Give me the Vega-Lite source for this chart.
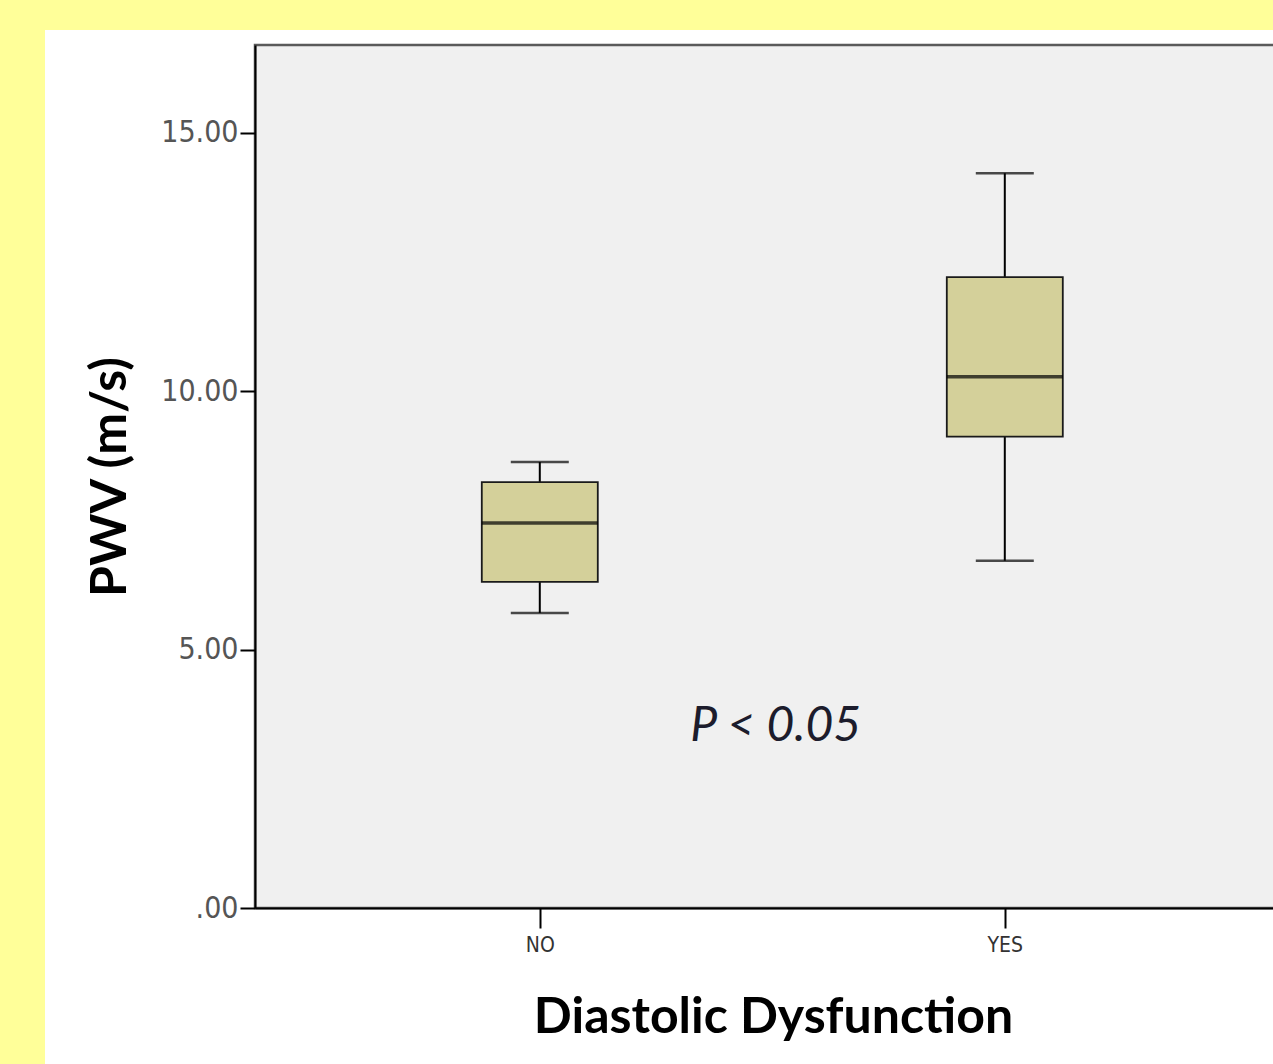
{
  "$schema": "https://vega.github.io/schema/vega-lite/v6.json",
  "width": 1018,
  "height": 863,
  "autosize": {"type": "none"},
  "padding": {"left": 255, "top": 45, "right": 0, "bottom": 156},
  "background": "#FFFF99",
  "config": {"view": {"stroke": null}},
  "data": {"values": [
    {"group": "NO", "lower": 5.71, "q1": 6.31, "median": 7.45, "q3": 8.24, "upper": 8.63},
    {"group": "YES", "lower": 6.72, "q1": 9.12, "median": 10.28, "q3": 12.21, "upper": 14.22}
  ]},
  "layer": [
    {
      "data": {"values": [{}]},
      "mark": {"type": "rect", "fill": "#FFFFFF", "clip": false},
      "encoding": {
        "x": {"value": -210},
        "x2": {"value": {"expr": "width + 20"}},
        "y": {"value": -15},
        "y2": {"value": {"expr": "height + 200"}}
      }
    },
    {
      "data": {"values": [{}]},
      "mark": {"type": "rect", "fill": "#F0F0F0", "stroke": "#5a5a5a", "strokeWidth": 2.5, "clip": false},
      "encoding": {
        "x": {"value": 0},
        "x2": {"value": {"expr": "width + 10"}},
        "y": {"value": 0},
        "y2": {"value": {"expr": "height"}}
      }
    },
    {
      "mark": {"type": "rule", "color": "#000000", "strokeWidth": 2},
      "encoding": {
        "x": {"field": "group", "type": "nominal", "sort": ["NO", "YES"],
          "scale": {"type": "point", "padding": 0.5946, "align": 0.515},
          "axis": {"title": "Diastolic Dysfunction", "zindex": 1, "domainColor": "#000000", "domainWidth": 2,
            "tickColor": "#000000", "tickWidth": 2, "tickSize": 20, "labelFont": "DejaVu Sans Condensed",
            "labelFontSize": 21, "labelColor": "#333333", "labelPadding": 6, "labelAngle": 0,
            "titleFont": "Lato", "titleFontWeight": "bold", "titleFontSize": 50, "titleColor": "#000000",
            "titleX": 518, "titleY": 109, "titleBaseline": "middle", "titleAnchor": "start", "titleAlign": "center"}},
        "y": {"field": "lower", "type": "quantitative",
          "scale": {"domain": [0, 16.7], "nice": false, "zero": true},
          "axis": {"title": "PWV (m/s)", "zindex": 1, "values": [0, 5, 10, 15],
            "labelExpr": "datum.value == 0 ? '.00' : format(datum.value, '.2f')",
            "grid": false, "domainColor": "#000000", "domainWidth": 2,
            "tickColor": "#000000", "tickWidth": 2, "tickSize": 15,
            "labelFont": "DejaVu Sans Condensed", "labelFontSize": 30, "labelColor": "#555555", "labelPadding": 2,
            "titleFont": "Lato", "titleFontWeight": "bold", "titleFontSize": 50, "titleColor": "#000000",
            "titleX": -145, "titleBaseline": "middle"}},
        "y2": {"field": "upper"}
      }
    },
    {
      "mark": {"type": "tick", "color": "#000000", "size": 58, "thickness": 2.5},
      "encoding": {
        "x": {"field": "group", "type": "nominal", "sort": ["NO", "YES"]},
        "y": {"field": "upper", "type": "quantitative"}
      }
    },
    {
      "mark": {"type": "tick", "color": "#000000", "size": 58, "thickness": 2.5},
      "encoding": {
        "x": {"field": "group", "type": "nominal", "sort": ["NO", "YES"]},
        "y": {"field": "lower", "type": "quantitative"}
      }
    },
    {
      "mark": {"type": "bar", "size": 116, "fill": "#D4D09A", "stroke": "#1a1a1a", "strokeWidth": 1.8},
      "encoding": {
        "x": {"field": "group", "type": "nominal", "sort": ["NO", "YES"]},
        "y": {"field": "q1", "type": "quantitative"},
        "y2": {"field": "q3"}
      }
    },
    {
      "mark": {"type": "tick", "color": "#000000", "size": 116, "thickness": 3.5},
      "encoding": {
        "x": {"field": "group", "type": "nominal", "sort": ["NO", "YES"]},
        "y": {"field": "median", "type": "quantitative"}
      }
    },
    {
      "data": {"values": [{"label": "P < 0.05", "value": 3.5}]},
      "mark": {"type": "text", "font": "Lato", "fontStyle": "italic", "fontSize": 48, "color": "#1c1c2c",
        "dx": 236, "baseline": "middle", "align": "center"},
      "encoding": {
        "x": {"datum": "NO"},
        "y": {"field": "value", "type": "quantitative"},
        "text": {"field": "label"}
      }
    }
  ]
}
